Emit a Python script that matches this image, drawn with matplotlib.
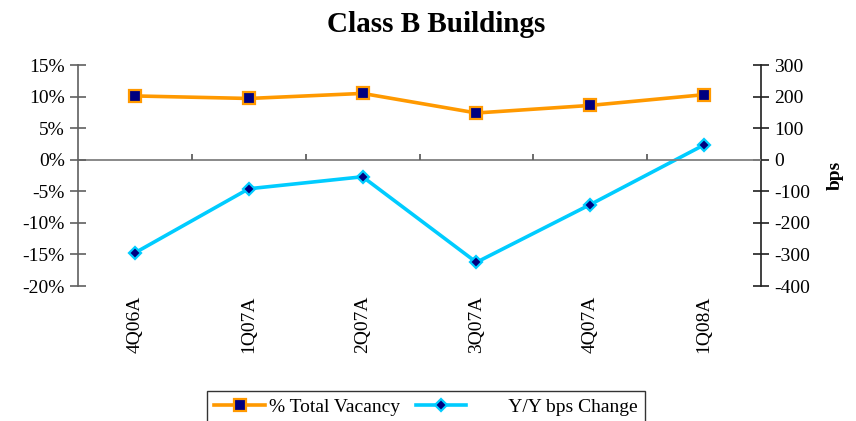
import numpy as np
import matplotlib
matplotlib.use("Agg")
import matplotlib.pyplot as plt

# data
quarters = ["4Q06A", "1Q07A", "2Q07A", "3Q07A", "4Q07A", "1Q08A"]
vacancy_pct = [10.1, 9.7, 10.5, 7.4, 8.6, 10.3]
yy_bps_change = [-295, -92, -54, -325, -142, 47]
pct_ticks = [15, 10, 5, 0, -5, -10, -15, -20]
bps_ticks = [300, 200, 100, 0, -100, -200, -300, -400]

plt.rcParams['font.family'] = ['Liberation Serif', 'DejaVu Serif']

fig = plt.figure(figsize=(8.56, 4.21), dpi=100)
ax = fig.add_axes([78 / 856, 1 - 286 / 421, (761 - 78) / 856, (286 - 65) / 421])
ax2 = ax.twinx()

x = np.arange(len(quarters))
orange = "#FF9900"
cyan = "#00CCFF"
navy = "#000080"

# zero line with category tick marks between quarters
ax.axhline(0, color="#808080", lw=1.3, zorder=1)
bounds = np.arange(len(quarters) + 1) - 0.5
ax.vlines(bounds[1:-1], 0, 0.95, color="#606060", lw=1.3, zorder=1)

l1, = ax.plot(x, vacancy_pct, color=orange, lw=2.6, marker="s", ms=8.5,
              mfc=navy, mec=orange, mew=1.6, zorder=3, label="% Total Vacancy")
l2, = ax2.plot(x, yy_bps_change, color=cyan, lw=2.6, marker="D", ms=6,
               mfc=navy, mec=cyan, mew=1.6, zorder=3,
               label="        Y/Y bps Change")

ax.set_xlim(-0.5, len(quarters) - 0.5)
ax.set_ylim(-20, 15)
ax2.set_ylim(-400, 300)

ax.set_yticks(pct_ticks)
ax.set_yticklabels([f"{t}%" for t in pct_ticks])
ax2.set_yticks(bps_ticks)
ax2.set_yticklabels([str(t) for t in bps_ticks])

ax.set_xticks(x)
ax.set_xticklabels(quarters, rotation=90, fontsize=14)
ax.tick_params(axis="x", length=0, pad=7)
ax.tick_params(axis="y", direction="inout", length=11, width=1.2,
               color="#606060", labelsize=14, pad=4)
ax2.tick_params(axis="y", direction="inout", length=11, width=1.2,
                color="#202020", labelsize=14, pad=4)

for a in (ax, ax2):
    a.spines["top"].set_visible(False)
    a.spines["bottom"].set_visible(False)
ax.spines["left"].set_color("#606060")
ax.spines["left"].set_linewidth(1.2)
ax.spines["right"].set_visible(False)
ax2.spines["left"].set_visible(False)
ax2.spines["right"].set_color("#202020")
ax2.spines["right"].set_linewidth(1.2)

ax2.set_ylabel("bps", fontsize=14, fontweight="bold", labelpad=12)

ax.set_zorder(ax2.get_zorder() + 1)
ax.patch.set_visible(False)

fig.text(436 / 856, 1 - 32 / 421, "Class B Buildings", ha="center", va="baseline",
         fontsize=21, fontweight="bold")

# legend box runs off the bottom edge like the original
leg = fig.legend(handles=[l1, l2], loc="upper left",
                 bbox_to_anchor=(207 / 856, 1 - 391 / 421), ncol=2,
                 fontsize=14, frameon=True, fancybox=False, handlelength=2.6,
                 handletextpad=0.2, columnspacing=0.8, borderpad=0.38,
                 borderaxespad=0)
leg.get_frame().set_edgecolor("black")
leg.get_frame().set_linewidth(1.0)

fig.savefig("out.png", dpi=100)
